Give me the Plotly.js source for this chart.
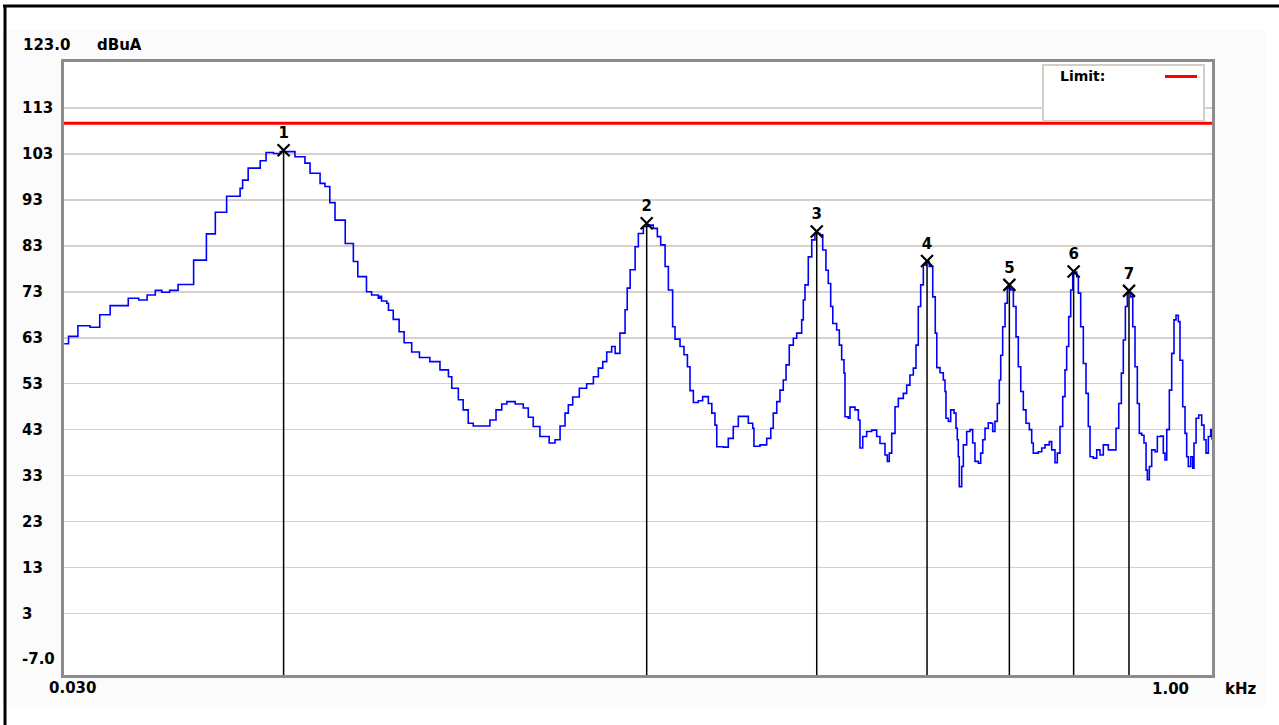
<!DOCTYPE html>
<html><head><meta charset="utf-8">
<script src="https://cdn.plot.ly/plotly-3.0.1.min.js"></script>
<style>html,body{margin:0;padding:0;background:#fff;}#chart{width:1279px;height:725px;}</style>
</head><body><div id="chart"></div>
<script>
// Measured spectrum (frequency in kHz, level in dBuA)
const freqKHz = [
0.0309,0.0313,0.0322,0.0334,0.0344,0.0355,0.0375,0.0387,0.0397,0.0407,0.0415,0.0425,0.0436,0.0457,0.0475,0.0488,0.0505,0.0526,0.0530,0.0539,
0.0559,0.0569,0.0582,0.0594,0.0621,0.0640,0.0650,0.0670,0.0680,0.0690,0.0701,0.0723,0.0741,0.0751,0.0771,0.0783,0.0799,
0.0803,0.0807,0.0820,0.0824,0.0836,0.0851,0.0864,0.0884,0.0905,0.0934,0.0963,0.0988,0.0998,0.1018,0.1033,0.1049,0.1065,0.1120,0.1141,0.1161,
0.1179,0.1209,0.1239,0.1258,0.1277,0.1303,0.1340,0.1364,0.1385,0.1406,0.1420,0.1439,0.1468,0.1501,0.1532,0.1555,0.1576,0.1595,0.1619,0.1636,
0.1660,0.1686,0.1697,0.1712,0.1738,0.1755,0.1782,0.1809,0.1836,0.1859,0.1878,0.1903,0.1922,0.1947,0.1961,0.1991,0.2015,0.2036,0.2052,0.2073,
0.2104,0.2132,0.2169,0.2192,0.2213,0.2225,0.2270,0.2304,0.2339,0.2375,0.2424,0.2448,0.2481,0.2490,0.2536,0.2588,0.2620,0.2640,0.2668,0.2694,
0.2721,0.2744,0.2771,0.2805,0.2834,0.2877,0.2891,0.2906,0.2935,0.2966,0.2995,0.3041,0.3066,0.3096,0.3118,0.3141,0.3161,0.3198,0.3224,0.3247,
0.3270,0.3280,0.3312,0.3330,0.3381,0.3415,0.3432,0.3461,0.3502,0.3556,0.3610,0.3646,0.3702,0.3728,0.3750,0.3778,0.3816,0.3854,0.3913,0.3953,
0.3992,0.4033,0.4066,0.4094,0.4124,0.4157,0.4191,0.4232,0.4277,0.4310,0.4330,0.4372,
0.4416,0.4439,0.4452,0.4484,0.4516,0.4562,0.4589,0.4607,0.4621,0.4635,0.4669,0.4692,0.4740,0.4788,0.4827,0.4860,0.4910,0.4945,0.4976,0.5010,
0.5060,0.5098,0.5128,0.5163,0.5200,0.5232,0.5254,0.5285,0.5323,0.5360,0.5416,0.5459,0.5503,0.5541,0.5582,0.5626,0.5672,0.5729,0.5770,0.5798,
0.5887,0.5948,0.6007,0.6086,0.6130,0.6192,0.6235,0.6286,0.6338,0.6382,0.6414,0.6454,0.6493,0.6533,0.6573,0.6613,0.6645,0.6692,0.6746,0.6801,
0.6848,0.6884,0.6953,0.7025,0.7095,0.7166,0.7276,0.7373,0.7447,0.7509,0.7568,0.7613,0.7661,0.7707,0.7786,0.7834,0.7888,0.7943,0.7991,0.8050,
0.8105,0.8156,0.8188,0.8237,0.8296,0.8381,0.8439,0.8527,0.8593,0.8637,0.8683,0.8751,0.8814,0.8875,0.8930,0.8992,0.9037,0.9113,0.9176,0.9223,
0.9268,0.9336,0.9392,0.9429,0.9488,0.9565,0.9651,0.9720,0.9779,0.9847,0.9919,0.9958
];
const levelDbuA = [
61.7,63.3,65.6,65.3,68.0,70.0,71.6,71.2,72.3,73.3,72.9,73.3,74.6,79.9,85.6,90.3,93.8,95.5,97.3,99.9,
101.5,103.3,103.1,103.5,102.4,101.0,98.8,96.6,95.9,92.4,88.6,83.5,79.6,76.3,73.0,72.3,71.6,
72.0,71.0,70.5,69.0,67.0,64.3,61.9,59.9,58.7,57.8,56.0,54.5,52.0,49.5,47.3,44.4,43.8,45.1,47.3,48.6,
49.1,48.6,47.7,45.7,43.7,41.5,40.1,40.8,43.8,46.6,48.4,50.1,52.0,53.0,54.5,56.4,57.8,59.9,61.1,59.6,
64.0,69.1,73.8,77.8,82.8,85.7,87.2,87.5,86.8,85.0,83.2,78.5,73.4,65.4,62.7,61.1,59.3,56.7,51.5,48.9,
49.3,50.2,48.7,46.6,44.0,39.3,39.2,41.1,43.7,45.9,45.9,44.4,43.3,39.4,39.7,41.1,43.3,46.6,49.1,51.6,
53.8,57.1,61.4,62.9,64.0,66.9,71.2,74.5,80.6,84.3,85.7,85.4,82.1,77.7,74.8,69.8,66.1,64.7,61.4,58.2,
55.3,45.8,45.5,47.9,47.3,45.1,39.0,41.5,42.6,42.9,41.5,40.0,37.5,36.1,37.9,42.2,48.0,49.8,50.9,52.7,
54.9,56.4,61.4,69.8,74.5,78.8,79.6,78.5,71.9,64.0,56.5,55.4,
53.8,51.3,45.5,44.8,47.3,46.6,43.3,40.8,37.1,30.6,35.0,39.7,42.6,43.0,40.1,36.1,35.7,37.9,40.8,43.3,
44.5,44.4,42.6,44.8,48.7,53.8,59.2,65.4,70.5,73.8,73.4,69.8,63.2,56.7,51.3,47.3,44.4,43.0,40.1,37.9,
38.2,39.0,39.7,40.4,38.6,35.8,37.9,43.7,50.2,56.0,61.1,67.6,73.4,77.0,77.3,76.3,72.7,65.4,57.4,50.9,
43.7,37.1,36.8,38.6,37.5,39.7,38.6,38.6,43.3,48.7,55.3,62.5,69.8,72.7,71.9,65.4,56.7,48.7,42.2,41.8,
40.1,34.2,32.1,35.0,38.6,38.2,41.5,41.6,37.9,36.4,43.0,51.6,59.6,66.9,67.9,66.5,58.1,48.0,42.2,37.1,
35.0,37.1,34.6,40.1,45.5,46.2,44.0,40.8,37.9,41.5,43.0,40.8
];
// Peak markers
const markerFreq = [0.0600, 0.1800, 0.3011, 0.4204, 0.5393, 0.6551, 0.7745];
const markerLevel = [103.8, 87.9, 86.1, 79.7, 74.5, 77.4, 73.2];
const markerLabels = ['1','2','3','4','5','6','7'];
// Limit line
const limitFreq = [0.030, 1.00];
const limitLevel = [109.7, 109.7];
const legendLabel = 'Limit:';
// Axis labels
const gridVals = [3, 13, 23, 33, 43, 53, 63, 73, 83, 93, 103, 113];
const yTickVals = [113, 103, 93, 83, 73, 63, 53, 43, 33, 23, 13, 3, -7];
const yTickText = ['113','103','93','83','73','63','53','43','33','23','13','3','-7.0'];
const yTopText = '123.0';
const yUnit = 'dBuA';
const xEndText = ['0.030', '1.00'];
const xUnit = 'kHz';

const Y_MIN = -10.38, Y_MAX = 123;
const X_RANGE = [-1.51042, -0.00188];

// plot area geometry helpers (pixels -> paper)
const L = 64, R = 1212, T = 62, B = 675;
const px = p => (p - L) / (R - L);
const py = p => (B - p) / (B - T);

const stemX = [], stemY = [];
markerFreq.forEach((f, i) => { stemX.push(f, f, null); stemY.push(markerLevel[i], Y_MIN, null); });

const traces = [
  {x: freqKHz, y: levelDbuA, type: 'scatter', mode: 'lines', line: {color: '#0000ff', width: 1.6, shape: 'hv'}, hoverinfo: 'skip'},
  {x: limitFreq, y: limitLevel, type: 'scatter', mode: 'lines', line: {color: '#ff0000', width: 3}, name: 'Limit'},
  {x: stemX, y: stemY, type: 'scatter', mode: 'lines', line: {color: '#000000', width: 1.5}},
  {x: markerFreq, y: markerLevel, type: 'scatter', mode: 'markers+text', text: markerLabels,
   textposition: 'top center', textfont: {family: 'DejaVu Sans', size: 15, color: '#000', weight: 'bold'},
   marker: {symbol: 'x-thin', size: 12, color: '#000', line: {color: '#000', width: 2.2}}}
];

const F = {family: 'DejaVu Sans', size: 15, color: '#000000', weight: 'bold'};
const annotations = [];
yTickVals.forEach((v, i) => annotations.push({xref: 'paper', yref: 'y', x: px(19.5), y: v, xanchor: 'left', yanchor: 'middle', text: yTickText[i], showarrow: false, font: F}));
annotations.push({xref: 'paper', yref: 'paper', x: px(20.5), y: py(45), xanchor: 'left', yanchor: 'middle', text: yTopText, showarrow: false, font: F});
annotations.push({xref: 'paper', yref: 'paper', x: px(95), y: py(45), xanchor: 'left', yanchor: 'middle', text: yUnit, showarrow: false, font: F});
annotations.push({xref: 'paper', yref: 'paper', x: px(47), y: py(688), xanchor: 'left', yanchor: 'middle', text: xEndText[0], showarrow: false, font: F});
annotations.push({xref: 'paper', yref: 'paper', x: px(1150), y: py(689), xanchor: 'left', yanchor: 'middle', text: xEndText[1], showarrow: false, font: F});
annotations.push({xref: 'paper', yref: 'paper', x: px(1223), y: py(689), xanchor: 'left', yanchor: 'middle', text: xUnit, showarrow: false, font: F});
annotations.push({xref: 'paper', yref: 'paper', x: px(1058), y: py(76), xanchor: 'left', yanchor: 'middle', text: legendLabel, showarrow: false, font: Object.assign({}, F, {size: 14})});

const shapes = [
  {type: 'rect', xref: 'paper', yref: 'paper', x0: px(6), x1: px(1265), y0: py(705), y1: py(30), fillcolor: '#fbfbfb', line: {width: 0}, layer: 'below'},
  {type: 'rect', xref: 'paper', yref: 'paper', x0: 0, x1: 1, y0: 0, y1: 1, fillcolor: '#ffffff', line: {width: 0}, layer: 'below'},
  {type: 'line', xref: 'paper', yref: 'paper', x0: px(3), x1: px(1279), y0: py(6), y1: py(6), line: {color: '#000', width: 3}},
  {type: 'line', xref: 'paper', yref: 'paper', x0: px(5), x1: px(5), y0: py(5), y1: py(725), line: {color: '#000', width: 3}},
  {type: 'rect', xref: 'paper', yref: 'paper', x0: px(1043), x1: px(1204), y0: py(121), y1: py(65), fillcolor: '#ffffff', line: {color: '#d4d0c8', width: 2}, layer: 'above'},
  {type: 'line', xref: 'paper', yref: 'paper', x0: px(1165), x1: px(1197), y0: py(76.5), y1: py(76.5), line: {color: '#ff0000', width: 3}, layer: 'above'}
];

const layout = {
  width: 1279, height: 725,
  margin: {l: L, r: 1279 - R, t: T, b: 725 - B, pad: 0},
  paper_bgcolor: '#ffffff', plot_bgcolor: '#ffffff',
  showlegend: false,
  font: F,
  xaxis: {type: 'log', range: X_RANGE, showgrid: false, zeroline: false, showticklabels: false, ticks: '',
          showline: true, mirror: true, linecolor: '#8c8c8c', linewidth: 3, fixedrange: true},
  yaxis: {range: [Y_MIN, Y_MAX], tickvals: gridVals, showticklabels: false, ticks: '', zeroline: false,
          showgrid: true, gridcolor: '#d6d2ca', gridwidth: 1.5,
          showline: true, mirror: true, linecolor: '#8c8c8c', linewidth: 3, fixedrange: true},
  annotations: annotations,
  shapes: shapes
};

Plotly.newPlot('chart', traces, layout, {displayModeBar: false, staticPlot: true});
</script>
</body></html>
